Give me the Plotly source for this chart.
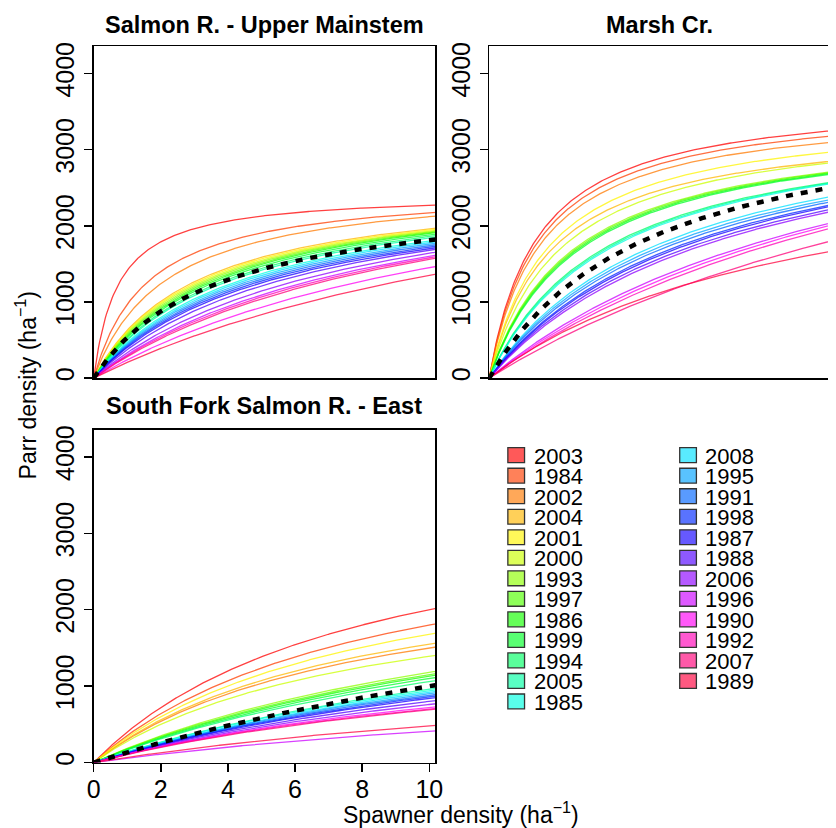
import colorsys
import numpy as np
import plotly.graph_objects as go

# ---------------- data ----------------
years = ["2003", "1984", "2002", "2004", "2001", "2000", "1993", "1997", "1986",
         "1999", "1994", "2005", "1985", "2008", "1995", "1991", "1998", "1987",
         "1988", "2006", "1996", "1990", "1992", "2007", "1989"]

panel_titles = ["Salmon R. - Upper Mainstem", "Marsh Cr.", "South Fork Salmon R. - East"]

# parr density (ha^-1) at spawner density 2 and 10 ha^-1
upper_at2 = [1790, 1400, 1240, 1010, 990, 970, 950, 930, 910, 890, 860, 840, 800,
             780, 760, 740, 720, 700, 660, 600, 560, 450, 540, 520, 390]
upper_at10 = [2270, 2170, 2120, 1960, 1945, 1930, 1920, 1910, 1900, 1880, 1860, 1840, 1800,
              1780, 1760, 1740, 1720, 1700, 1680, 1640, 1600, 1450, 1580, 1560, 1350]

marsh_at2 = [2150, 2080, 2000, 1750, 1830, 1650, 1500, 1480, 1460, 1440, 1250, 1230, 1210,
             980, 950, 920, 880, 860, 830, 800, 640, 610, 580, 500, 560]
marsh_at10 = [3240, 3170, 3090, 2840, 2960, 2820, 2700, 2690, 2680, 2670, 2560, 2550, 2540,
              2370, 2330, 2300, 2260, 2240, 2200, 2170, 2020, 1990, 1950, 1780, 1650]

sfe_at2 = [720, 640, 540, 560, 600, 500, 350, 340, 330, 320, 310, 270, 265,
           255, 250, 245, 240, 235, 225, 215, 110, 210, 205, 200, 130]
sfe_at10 = [2000, 1800, 1500, 1550, 1680, 1390, 1180, 1150, 1130, 1100, 1060, 960, 940,
            920, 900, 880, 860, 840, 800, 760, 410, 720, 700, 690, 480]

# mean curve (black dashed), per panel
mean_at2 = [877, 1090, 261]
mean_at10 = [1810, 2490, 1000]

x_tick_vals = [0, 2, 4, 6, 8, 10]
y_tick_vals = [0, 1000, 2000, 3000, 4000]

panel_at2 = [upper_at2, marsh_at2, sfe_at2]
panel_at10 = [upper_at10, marsh_at10, sfe_at10]


def bev_holt(s, r2, r10):
    """Beverton-Holt curve passing through the two read values."""
    b = (5.0 * r2 - r10) / (10.0 * (r10 - r2))
    a = r2 * (1.0 + 2.0 * b) / 2.0
    return a * s / (1.0 + b * s)


def rainbow(i, n, alpha):
    r, g, b = colorsys.hsv_to_rgb(i / n, 1.0, 1.0)
    return f"rgba({int(r*255)},{int(g*255)},{int(b*255)},{alpha})"


W, H = 836, 828
FONT = "Liberation Sans, Arial, sans-serif"

# panel boxes in pixels (left, right, top, bottom)
boxes = [(88.3, 436.0, 42.7, 377.3), (491.0, 836.0, 42.7, 377.3), (88.3, 436.0, 429.3, 765.0)]
px_per_unit = 34.17

fig = go.Figure()
n = len(years)
s_grid = np.linspace(0, 10.3, 300)

for p in range(3):
    xa = "x" if p == 0 else f"x{p+1}"
    ya = "y" if p == 0 else f"y{p+1}"
    for i in range(n):
        fig.add_trace(go.Scatter(
            x=s_grid, y=bev_holt(s_grid, panel_at2[p][i], panel_at10[p][i]),
            mode="lines", line=dict(color=rainbow(i, n, 0.75), width=1.3),
            xaxis=xa, yaxis=ya, showlegend=False, hoverinfo="skip"))
    fig.add_trace(go.Scatter(
        x=s_grid, y=bev_holt(s_grid, mean_at2[p], mean_at10[p]),
        mode="lines", line=dict(color="black", width=4.5, dash="7px,8px"),
        xaxis=xa, yaxis=ya, showlegend=False, hoverinfo="skip"))

TICK = 25
layout = dict(width=W, height=H, margin=dict(l=0, r=0, t=0, b=0),
              paper_bgcolor="white", plot_bgcolor="white", showlegend=False,
              font=dict(family=FONT, color="black", size=TICK))

for p, (l, r, t, b) in enumerate(boxes):
    xk = "xaxis" if p == 0 else f"xaxis{p+1}"
    yk = "yaxis" if p == 0 else f"yaxis{p+1}"
    ydom = [1 - b / H, 1 - t / H]
    xdom = [l / W, min(r / W, 1.0)]
    xmax = (r - l) / px_per_unit
    show_x = (p == 2)
    layout[xk] = dict(domain=xdom, range=[0, xmax], anchor="y" if p == 0 else f"y{p+1}",
                      showgrid=False, zeroline=False, showline=True, mirror=True,
                      linecolor="black", linewidth=1.6,
                      ticks="outside" if show_x else "", ticklen=8, tickwidth=1.5,
                      tickcolor="black", tickvals=x_tick_vals,
                      showticklabels=show_x, ticklabelstandoff=-4,
                      tickfont=dict(size=TICK, family=FONT))
    layout[yk] = dict(domain=ydom, range=[0, 4357], anchor="x" if p == 0 else f"x{p+1}",
                      showgrid=False, zeroline=False, showline=True,
                      mirror=(p != 1), linecolor="black", linewidth=1.6,
                      ticks="outside", ticklen=8, tickwidth=1.5, tickcolor="black",
                      tickvals=y_tick_vals, tickangle=-90,
                      tickfont=dict(size=TICK, family=FONT))

annotations = []
title_y = [21, 21, 405]
for p, (l, r, t, b) in enumerate(boxes):
    cx = (l + (l + 347.7)) / 2
    annotations.append(dict(text=f"<b>{panel_titles[p]}</b>", x=cx / W, y=1 - title_y[p] / H,
                            xref="paper", yref="paper", xanchor="center", yanchor="middle",
                            showarrow=False, font=dict(size=23.5, family=FONT)))

annotations.append(dict(text="Spawner density (ha<sup>\u22121</sup>)", x=462 / W, y=1 - 816 / H,
                        xref="paper", yref="paper", xanchor="center", yanchor="middle",
                        showarrow=False, font=dict(size=23, family=FONT)))
annotations.append(dict(text="Parr density (ha<sup>\u22121</sup>)", x=19 / W, y=1 - 385 / H,
                        xref="paper", yref="paper", xanchor="center", yanchor="middle",
                        textangle=-90, showarrow=False, font=dict(size=23, family=FONT)))

# manual two-column legend
shapes = []
rows = 13
row_h = 20.7
for i, yr in enumerate(years):
    col = i // rows
    row = i % rows
    sq_l = 510 if col == 0 else 685
    txt_l = 535 if col == 0 else 708.5
    cy = 455 + row * row_h
    shapes.append(dict(type="rect", xref="paper", yref="paper",
                       x0=sq_l / W, x1=(sq_l + 17) / W,
                       y0=1 - (cy + 7.5) / H, y1=1 - (cy - 7.5) / H,
                       fillcolor=rainbow(i, n, 0.65),
                       line=dict(color="#333333", width=1.3)))
    annotations.append(dict(text=yr, x=txt_l / W, y=1 - (cy + 1) / H, xref="paper", yref="paper",
                            xanchor="left", yanchor="middle", showarrow=False,
                            font=dict(size=22, family=FONT)))

layout["annotations"] = annotations
layout["shapes"] = shapes
fig.update_layout(**layout)

fig.write_html("out.html",
               config={"displayModeBar": False, "staticPlot": True},
               post_script="document.body.style.margin='0px';"
                           "document.body.style.padding='0px';"
                           "document.body.style.overflow='hidden';")
